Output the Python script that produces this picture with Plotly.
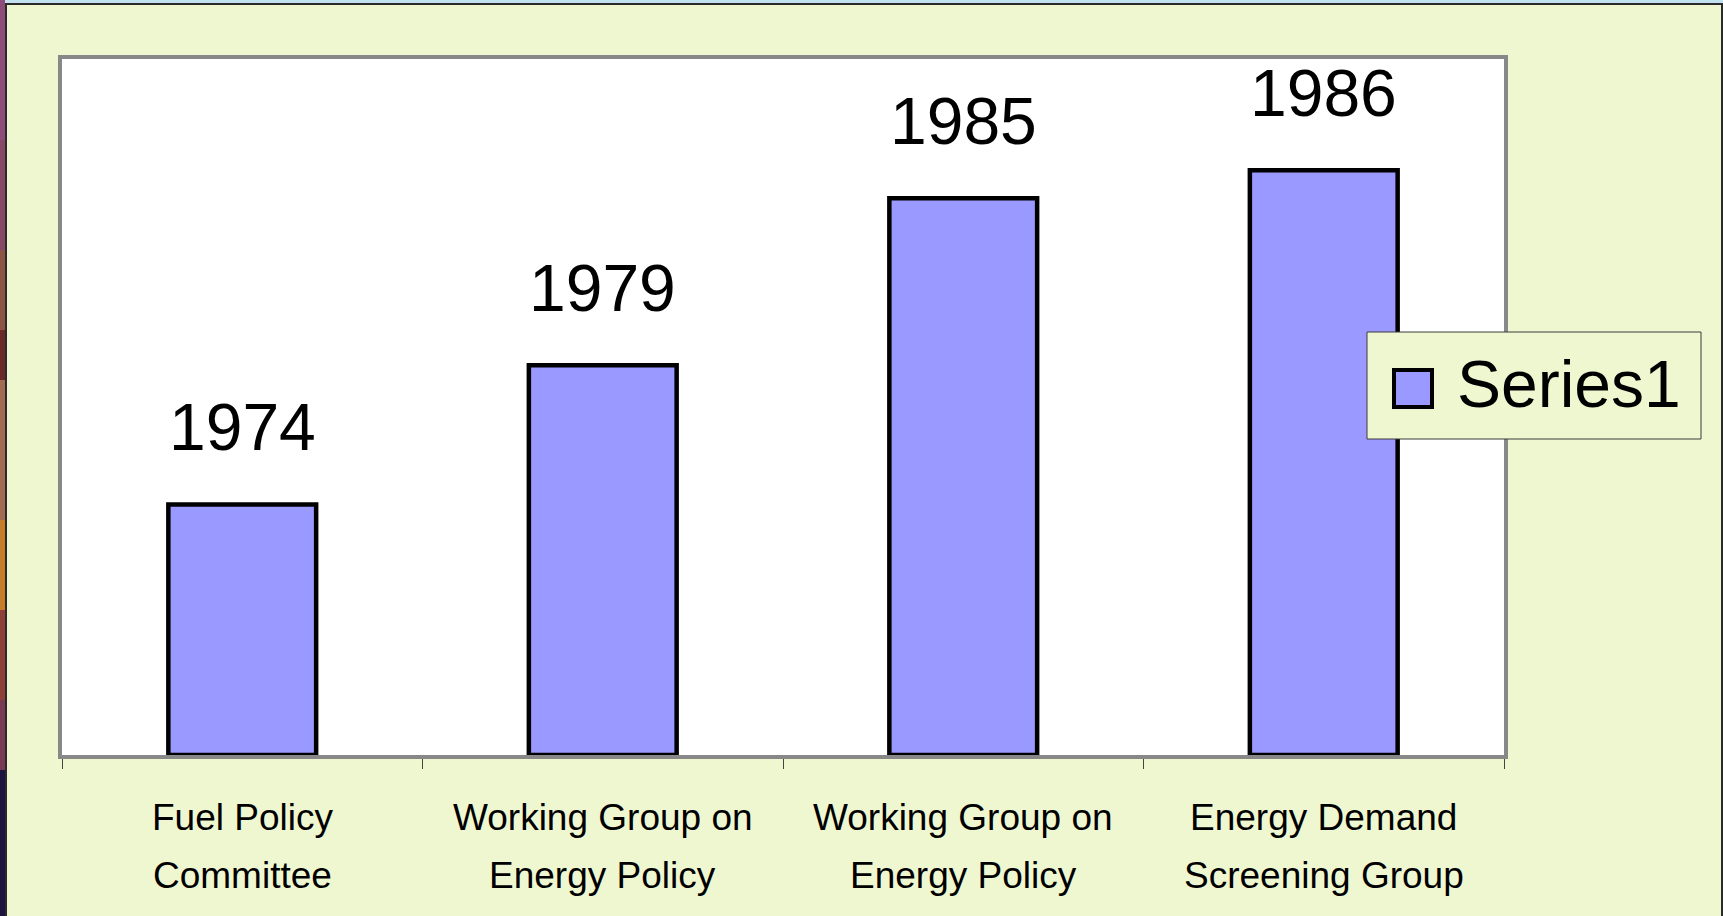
import plotly.graph_objects as go

# ---- data ----
categories_line1 = ["Fuel Policy", "Working Group on", "Working Group on", "Energy Demand"]
categories_line2 = ["Committee", "Energy Policy", "Energy Policy", "Screening Group"]
values = [3.6, 5.6, 8.0, 8.4]
year_labels = ["1974", "1979", "1985", "1986"]
series_name = "Series1"

W, H = 1723, 916
L, R, T, B = 62, 219, 59, 161
PW, PH = W - L - R, H - T - B
FONT = "Liberation Sans, Arial, sans-serif"
BG = "#EFF7D1"
BAR = "#9999FF"

def px(x):
    return (x - L) / PW

def py(y):
    return 1 - (y - T) / PH

xs = list(range(len(values)))

fig = go.Figure()
fig.add_trace(go.Bar(
    x=xs, y=values, width=0.41, name=series_name,
    marker=dict(color=BAR, line=dict(color="black", width=4.5)),
    showlegend=False, hoverinfo="skip",
))

annotations = []
for i, (v, lab) in enumerate(zip(values, year_labels)):
    annotations.append(dict(x=i, y=v, xref="x", yref="y", text=lab, showarrow=False,
                            yanchor="bottom", yshift=38,
                            font=dict(family=FONT, size=66, color="black")))
for i, (l1, l2) in enumerate(zip(categories_line1, categories_line2)):
    annotations.append(dict(x=i, y=0, xref="x", yref="paper", text=l1, showarrow=False,
                            yanchor="top", yshift=-40,
                            font=dict(family=FONT, size=37, color="black")))
    annotations.append(dict(x=i, y=0, xref="x", yref="paper", text=l2, showarrow=False,
                            yanchor="top", yshift=-98,
                            font=dict(family=FONT, size=37, color="black")))
# legend text
annotations.append(dict(x=px(1455), y=py(384), xref="paper", yref="paper", text=series_name,
                        showarrow=False, xanchor="left", yanchor="middle",
                        font=dict(family=FONT, size=66, color="black")))

shapes = []
def rect(x0, y0, x1, y1, fill=None, line_color=None, lw=0, layer="above"):
    shapes.append(dict(type="rect", xref="paper", yref="paper",
                       x0=px(x0), x1=px(x1), y0=py(y1), y1=py(y0),
                       fillcolor=fill if fill else "rgba(0,0,0,0)",
                       line=dict(color=line_color if line_color else "rgba(0,0,0,0)", width=lw),
                       layer=layer))

# outer frame decorations
rect(0, 0, W, 3, fill="#C2E2F2")
strip = [(0, 140, "#8E4C78"), (140, 250, "#874868"), (250, 330, "#8C5444"), (330, 380, "#6A2828"),
         (380, 520, "#A26C52"), (520, 610, "#C97C28"), (610, 700, "#8E4038"), (700, 770, "#7A3A55"),
         (770, 916, "#1E1440")]
for y0, y1, c in strip:
    rect(0, y0, 5, y1, fill=c)
rect(5, 3, 7, H, fill="#2A2A2A")
rect(5, 3, W, 5, fill="#2A2A2A")
rect(1721, 3, W, H, fill="#2A2A2A")

# legend box
rect(1367, 332, 1701, 439, fill=BG, line_color="#3A3A3A", lw=1)
rect(1394, 370, 1432, 407, fill=BAR, line_color="black", lw=4)

fig.update_layout(
    width=W, height=H,
    margin=dict(l=L, r=R, t=T, b=B, pad=0),
    paper_bgcolor=BG, plot_bgcolor="white",
    bargap=0.6,
    annotations=annotations, shapes=shapes,
    xaxis=dict(range=[-0.5, len(values) - 0.5], tickvals=[i - 0.5 for i in range(len(values) + 1)],
               showticklabels=False, ticks="outside", ticklen=10, tickwidth=1, tickcolor="#444",
               showline=True, linecolor="#888888", linewidth=4, mirror=True,
               showgrid=False, zeroline=False, layer="below traces", fixedrange=True),
    yaxis=dict(range=[0, 10], showticklabels=False, ticks="", showgrid=False, zeroline=False,
               showline=True, linecolor="#888888", linewidth=4, mirror=True,
               layer="below traces", fixedrange=True),
)

fig.write_html("out.html", config={"displayModeBar": False},
               post_script="document.body.style.margin='0';document.body.style.overflow='hidden';")
